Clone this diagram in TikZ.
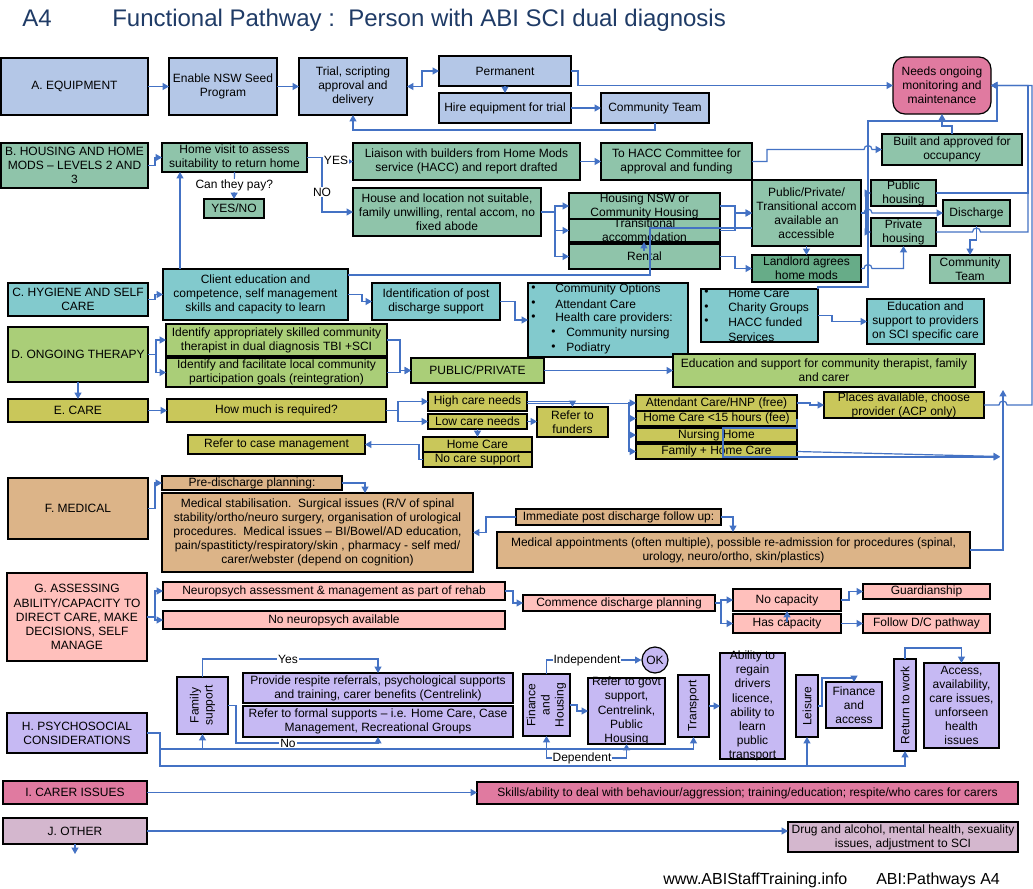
\documentclass[tikz,border=0pt]{standalone}
\usepackage{fontspec}
\setmainfont{Liberation Sans}
\usetikzlibrary{arrows.meta,calc}
\definecolor{cb}{HTML}{4472C4}
\definecolor{cEq}{HTML}{B4C7E7}
\definecolor{cHs}{HTML}{8FC4AA}
\definecolor{cHsd}{HTML}{67AC88}
\definecolor{cHy}{HTML}{82CACD}
\definecolor{cTh}{HTML}{AACE78}
\definecolor{cCa}{HTML}{C9C75A}
\definecolor{cMe}{HTML}{DCB488}
\definecolor{cAs}{HTML}{FFC0BC}
\definecolor{cPs}{HTML}{C6B9F3}
\definecolor{cCi}{HTML}{E07AA0}
\definecolor{cOt}{HTML}{D4B7CE}
\definecolor{cTitle}{HTML}{1F3B66}
\newcommand\mkbox[7][]{%
  \pgfmathsetmacro\bxw{(#4-#2)*0.75}%
  \pgfmathsetmacro\bxh{(#5-#3)*0.75}%
  \pgfmathsetmacro\bxcx{(#2+#4)/2}%
  \pgfmathsetmacro\bxcy{(#3+#5)/2}%
  \node[box,minimum width=\bxw pt,minimum height=\bxh pt,#1] (#6) at (\bxcx,\bxcy) {};%
  \node[txt] (#6-t) at (#6.center) {#7};%
}
\newcommand\mkrbox[7][]{%
  \pgfmathsetmacro\bxw{(#4-#2)*0.75}%
  \pgfmathsetmacro\bxh{(#5-#3)*0.75}%
  \pgfmathsetmacro\bxcx{(#2+#4)/2}%
  \pgfmathsetmacro\bxcy{(#3+#5)/2}%
  \node[box,minimum width=\bxw pt,minimum height=\bxh pt,#1] (#6) at (\bxcx,\bxcy) {};%
  \node[txt,rotate=90] (#6-t) at (#6.center) {#7};%
}
\begin{document}
\begin{tikzpicture}[x=0.75pt,y=-0.75pt,
  box/.style={draw=black,line width=0.9pt,inner sep=0pt,outer sep=0pt,rectangle},
  txt/.style={align=center,inner sep=0pt,font=\fontsize{9}{10.6}\selectfont},
  ltxt/.style={anchor=west,inner sep=0pt,font=\fontsize{9}{10.6}\selectfont},
  lbl/.style={fill=white,inner sep=0.8pt,font=\fontsize{9}{10}\selectfont},
  fEq/.style={fill=cEq}, fHs/.style={fill=cHs}, fHsd/.style={fill=cHsd},
  fHy/.style={fill=cHy}, fTh/.style={fill=cTh}, fCa/.style={fill=cCa},
  fMe/.style={fill=cMe}, fAs/.style={fill=cAs}, fPs/.style={fill=cPs},
  fCi/.style={fill=cCi}, fOt/.style={fill=cOt},
  hop/.style={},
  arr/.style={draw=cb,line width=0.9pt,-{Triangle[width=5.2pt,length=4.8pt]}},
  darr/.style={draw=cb,line width=0.9pt,{Triangle[width=5.2pt,length=4.8pt]}-{Triangle[width=5.2pt,length=4.8pt]}},
  ln/.style={draw=cb,line width=0.9pt}]
\useasboundingbox[fill=white] (0,0) rectangle (1033,889);

% title
\node[anchor=base west,inner sep=0pt,font=\fontsize{18}{20}\selectfont,text=cTitle] (tA) at (22,26) {A4};
\node[anchor=base west,inner sep=0pt,font=\fontsize{18}{20}\selectfont,text=cTitle] (tB) at (112,26) {Functional Pathway :\ \ Person with ABI SCI dual diagnosis};

% ===== A =====
\mkbox[fEq]{1}{58}{148}{115}{A}{A. EQUIPMENT}
\mkbox[fEq]{169}{58}{277}{115}{seed}{Enable NSW Seed\\Program}
\mkbox[fEq]{299}{58}{407}{115}{trial}{Trial, scripting\\approval and\\delivery}
\mkbox[fEq]{439}{56}{571}{86}{perm}{Permanent}
\mkbox[fEq]{439}{93}{571}{123}{hire}{Hire equipment for trial}
\mkbox[fEq]{601}{93}{709}{123}{ctA}{Community Team}
\mkbox[fCi,rounded corners=9pt]{893}{57}{991}{114}{needs}{Needs ongoing\\monitoring and\\maintenance}

% ===== B =====
\mkbox[fHs]{1}{143}{148}{188}{B}{B. HOUSING AND HOME\\MODS -- LEVELS 2 AND\\3}
\mkbox[fHs]{162}{143}{307}{172}{hv}{Home visit to assess\\suitability to return home}
\mkbox[fHs]{204}{199}{264}{218}{yn}{YES/NO}
\mkbox[fHs]{353}{143}{580}{180}{liaison}{Liaison with builders from Home Mods\\service (HACC) and report drafted}
\mkbox[fHs]{601}{143}{752}{180}{hacc}{To HACC Committee for\\approval and funding}
\mkbox[fHs]{882}{134}{1022}{165}{built}{Built and approved for\\occupancy}
\mkbox[fHs]{353}{188}{541}{236}{house}{House and location not suitable,\\family unwilling, rental accom, no\\fixed abode}
\mkbox[fHs]{569}{193}{720}{219}{hnsw}{Housing NSW or\\Community Housing}
\mkbox[fHs]{569}{219}{720}{242}{trans}{Transitional\\accommodation}
\mkbox[fHs]{569}{244}{720}{269}{rental}{Rental}
\mkbox[fHs]{752}{180}{861}{246}{ppt}{Public/Private/\\Transitional accom\\available an\\accessible}
\mkbox[fHsd]{752}{255}{861}{282}{landlord}{Landlord agrees\\home mods}
\mkbox[fHs]{871}{180}{936}{206}{pubh}{Public\\housing}
\mkbox[fHs]{871}{218}{936}{246}{privh}{Private\\housing}
\mkbox[fHs]{943}{200}{1010}{226}{disch}{Discharge}
\mkbox[fHs]{930}{255}{1010}{283}{ctB}{Community\\Team}

% ===== C =====
\mkbox[fHy]{8}{283}{148}{316}{C}{C. HYGIENE AND SELF\\CARE}
\mkbox[fHy]{163}{269}{348}{320}{client}{Client education and\\competence, self management\\skills and capacity to learn}
\mkbox[fHy]{372}{283}{500}{320}{ident}{Identification of post\\discharge support}
\mkbox[fHy]{528}{283}{688}{357}{copt}{}
\node[ltxt] (cob1) at (531,289) {•};
\node[ltxt] (cot1) at (555,289) {Community Options};
\node[ltxt] (cob2) at (531,304) {•};
\node[ltxt] (cot2) at (555,304) {Attendant Care};
\node[ltxt] (cob3) at (531,318) {•};
\node[ltxt] (cot3) at (555,318) {Health care providers:};
\node[ltxt] (cob4) at (551,333) {•};
\node[ltxt] (cot4) at (566,333) {Community nursing};
\node[ltxt] (cob5) at (551,348) {•};
\node[ltxt] (cot5) at (566,348) {Podiatry};
\mkbox[fHy]{701}{289}{818}{342}{hcl}{}
\node[ltxt] (hcb1) at (704,293) {•};
\node[ltxt] (hct1) at (728,293) {Home Care};
\node[ltxt] (hcb2) at (704,308) {•};
\node[ltxt] (hct2) at (728,308) {Charity Groups};
\node[ltxt] (hcb3) at (704,322) {•};
\node[ltxt] (hct3) at (728,322) {HACC funded};
\node[ltxt] (hct4) at (728,337) {Services};
\mkbox[fHy]{867}{299}{984}{344}{edprov}{Education and\\support to providers\\on SCI specific care}

% ===== D =====
\mkbox[fTh]{8}{327}{148}{382}{D}{D. ONGOING THERAPY}
\mkbox[fTh]{166}{324}{387}{356}{id1}{Identify appropriately skilled community\\therapist in dual diagnosis TBI +SCI}
\mkbox[fTh]{166}{358}{387}{387}{id2}{Identify and facilitate local community\\participation goals (reintegration)}
\mkbox[fTh]{411}{358}{544}{383}{pp}{PUBLIC/PRIVATE}
\mkbox[fTh]{673}{354}{975}{387}{edcomm}{Education and support for community therapist, family\\and carer}

% ===== E =====
\mkbox[fCa]{8}{399}{148}{422}{E}{E. CARE}
\mkbox[fCa]{167}{399}{386}{422}{howm}{How much is required?}
\mkbox[fCa]{428}{392}{527}{411}{high}{High care needs}
\mkbox[fCa]{428}{414}{527}{429}{low}{Low care needs}
\mkbox[fCa]{537}{407}{608}{437}{funders}{Refer to\\funders}
\mkbox[fCa]{423}{437}{532}{452}{hc}{Home Care}
\mkbox[fCa]{423}{452}{532}{467}{ncs}{No care support}
\mkbox[fCa]{188}{435}{365}{454}{rcm}{Refer to case management}
\mkbox[fCa]{636}{395}{797}{411}{att}{Attendant Care/HNP (free)}
\mkbox[fCa]{636}{411}{797}{426}{hc15}{Home Care <15 hours (fee)}
\mkbox[fCa]{636}{428}{797}{442}{nh}{Nursing Home}
\mkbox[fCa]{636}{444}{797}{459}{fhc}{Family + Home Care}
\mkbox[fCa]{824}{392}{984}{418}{places}{Places available, choose\\provider (ACP only)}

% ===== F =====
\mkbox[fMe]{8}{478}{148}{539}{F}{F. MEDICAL}
\mkbox[fMe]{162}{476}{342}{490}{pre}{Pre-discharge planning:}
\mkbox[fMe]{162}{493}{473}{572}{medstab}{Medical stabilisation.\ \ Surgical issues (R/V of spinal\\stability/ortho/neuro surgery, organisation of urological\\procedures.\ \ Medical issues -- BI/Bowel/AD education,\\pain/spastiticty/respiratory/skin , pharmacy - self med/\\carer/webster (depend on cognition)}
\mkbox[fMe]{516}{509}{721}{525}{imm}{Immediate post discharge follow up:}
\mkbox[fMe]{497}{532}{970}{568}{medapp}{Medical appointments (often multiple), possible re-admission for procedures (spinal,\\urology, neuro/ortho, skin/plastics)}

% ===== G =====
\mkbox[fAs]{7}{573}{147}{661}{G}{G. ASSESSING\\ABILITY/CAPACITY TO\\DIRECT CARE, MAKE\\DECISIONS, SELF\\MANAGE}
\mkbox[fAs]{163}{582}{505}{600}{np}{Neuropsych assessment \& management as part of rehab}
\mkbox[fAs]{163}{611}{505}{629}{nonp}{No neuropsych available}
\mkbox[fAs]{523}{595}{715}{611}{cdp}{Commence discharge planning}
\mkbox[fAs]{733}{589}{841}{611}{nocap}{No capacity}
\mkbox[fAs]{733}{614}{841}{633}{hascap}{Has capacity}
\mkbox[fAs]{863}{584}{990}{599}{guard}{Guardianship}
\mkbox[fAs]{863}{614}{990}{633}{fdc}{Follow D/C pathway}

% ===== H =====
\mkbox[fPs]{7}{713}{147}{753}{H}{H. PSYCHOSOCIAL\\CONSIDERATIONS}
\mkrbox[fPs]{177}{677}{228}{734}{fam}{Family\\support}
\mkbox[fPs]{243}{673}{513}{703}{resp}{Provide respite referrals, psychological supports\\and training, carer benefits (Centrelink)}
\mkbox[fPs]{243}{706}{513}{737}{formal}{Refer to formal supports -- i.e. Home Care, Case\\Management, Recreational Groups}
\mkrbox[fPs]{523}{674}{570}{736}{finh}{Finance\\and\\Housing}
\node[circle,draw=black,line width=0.9pt,fill=cPs,minimum size=19.5pt,inner sep=0pt,font=\fontsize{9}{10}\selectfont] (ok) at (655,660) {OK};
\mkbox[fPs]{588}{678}{665}{744}{govt}{Refer to govt\\support,\\Centrelink,\\Public\\Housing}
\mkrbox[fPs]{678}{675}{709}{737}{transp}{Transport}
\mkbox[fPs]{720}{653}{785}{759}{abil}{Ability to\\regain\\drivers\\licence,\\ability to\\learn\\public\\transport}
\mkrbox[fPs]{796}{675}{818}{737}{leis}{Leisure}
\mkbox[fPs]{826}{682}{882}{728}{fina}{Finance\\and\\access}
\mkrbox[fPs]{894}{659}{916}{751}{rtw}{Return to work}
\mkbox[fPs]{924}{663}{999}{748}{access}{Access,\\availability,\\care issues,\\unforseen\\health\\issues}

% ===== I, J =====
\mkbox[fCi]{3}{781}{147}{804}{I}{I. CARER ISSUES}
\mkbox[fCi]{477}{782}{1018}{804}{skills}{Skills/ability to deal with behaviour/aggression; training/education; respite/who cares for carers}
\mkbox[fOt]{3}{818}{147}{844}{J}{J. OTHER}
\mkbox[fOt]{788}{822}{1018}{852}{drug}{Drug and alcohol, mental health, sexuality\\issues, adjustment to SCI}

% footer
\node[anchor=base west,inner sep=0pt,font=\fontsize{12}{14}\selectfont] (f1) at (663,884) {www.ABIStaffTraining.info};
\node[anchor=base west,inner sep=0pt,font=\fontsize{12}{14}\selectfont] (f2) at (876,884) {ABI:Pathways A4};

% ===== connectors =====
\coordinate (busR1) at (1028,0);
\coordinate (busR2) at (1032,0);
\coordinate (ebus) at (629,0);
\coordinate (b1) at (0,749);
\coordinate (b2) at (0,766);

% A
\draw[arr] (A.east) -- (seed.west);
\draw[arr] (seed.east) -- (trial.west);
\draw[darr] (trial.east) -- ++(15,0) |- (perm.west);
\draw[arr] (perm.south) -- (hire.north);
\draw[arr] (hire.east) -- (ctA.west);
\draw[arr] (ctA.south) -- ++(0,7) -| (trial.south);
\draw[arr] (perm.east) -- ++(7,0) |- (needs.west);

% B
\draw[arr] (B.east) -- ++(7,0) |- (hv.west);
\draw[arr] (hv.south) -- node[lbl] (pay) {Can they pay?} (yn.north);
\draw[arr] (hv.east) -- ++(15,0) |- (liaison.west);
\draw[arr] (hv.east) -- ++(15,0) |- (house.west);
\draw[arr] (liaison.east) -- (hacc.west);
\draw[arr] (hacc.east) -- ++(15,0) |- ($(built.west)+(-18,0)$) arc[start angle=180,end angle=0,radius=3pt] -- (built.west);
\draw[arr] (built.north) -- ++(0,-8) -| (needs.south);
\draw[arr] (house.east) -- ++(14,0) |- (hnsw.west);
\draw[arr] (house.east) -- ++(14,0) |- (trans.west);
\draw[arr] (house.east) -- ++(14,0) |- (rental.west);
\draw[arr] (hnsw.east) -- ++(15,0) |- (ppt.west);
\draw[arr] (trans.east) -- ++(15,0) |- (ppt.west);
\draw[arr] (rental.east) -- ++(15,0) |- (landlord.west);
\draw[arr] (ppt.south) -- (landlord.north);
\draw[arr] (ppt.east) -- ++(5,0) |- (pubh.west);
\draw[arr] (ppt.east) -- ++(5,0) |- (privh.west);
\draw[arr] (ppt.east) -- ++(3,0) arc[start angle=180,end angle=0,radius=3pt] -- (disch.west);
\draw[arr] (disch.south) -- ++(0,14) -| (ctB.north);
\draw[arr] (pubh.east) -- (pubh.east -| busR1) |- (needs.east);
\draw[arr] (privh.east) -- ++(36.5,0) arc[start angle=180,end angle=0,radius=3pt] -- (privh.east -| busR1) |- (needs.east);
\draw[arr] (landlord.east) -- ++(3,0) arc[start angle=180,end angle=0,radius=3pt] -| (privh.south);
\draw[arr] (hcl.north east) -- ++(0,-2) -- ++(50,0) -- ++(0,-166) -- ++(129,0) |- (needs.east);

% C
\draw[arr] (C.east) -- ++(7,0) |- (client.west);
\draw[arr] ($(client.north west)+(17,0)$) -- ($(hv.south west)+(18,0)$);
\draw[ln] ($(client.north east)+(0,6)$) -- ++(302,0) |- ($(ppt.south west)+(0,-18)$);
\draw[arr] ($(trans.south west)+(75,9)$) -- ($(trans.south west)+(75,0)$);
\draw[arr] (client.east) -- ++(14,0) |- (ident.west);
\draw[arr] (ident.east) -- ++(15,0) |- (copt.west);
\draw[arr] (hcl.east) -- ++(14,0) |- (edprov.west);

% D
\draw[arr] (D.east) -- ++(8,0) |- (id1.west);
\draw[arr] (D.east) -- ++(8,0) |- (id2.west);
\draw[arr] (D.south) -- (E.north);
\draw[arr] (id1.east) -- ++(13,0) |- (pp.west);
\draw[arr] (id2.east) -- ++(13,0) |- (pp.west);
\draw[arr] (pp.east) -- (edcomm.west);

% E
\draw[arr] (E.east) -- (howm.west);
\draw[arr] (howm.east) -- ++(12,0) |- (high.west);
\draw[arr] (howm.east) -- ++(12,0) |- (low.west);
\draw[arr] (low.east) -- (low.east -| funders.west);
\draw[arr] (high.east) -| (funders.north);
\draw[ln] ([yshift=-1.2pt]high.east) -- ([yshift=-1.2pt]high.east -| ebus);
\draw[arr] ([yshift=-1.2pt]high.east -| ebus) |- (att.west);
\draw[arr] ([yshift=-1.2pt]high.east -| ebus) |- (hc15.west);
\draw[arr] ([yshift=-1.2pt]high.east -| ebus) |- (nh.west);
\draw[arr] ([yshift=-1.2pt]high.east -| ebus) |- (fhc.west);
\draw[arr] (low.south) -- (hc.north);
\draw[arr] (ncs.west) -- ++(-4,0) |- (rcm.east);
\draw[arr] (att.east) -- ++(13,0) |- (places.west);
\draw[arr] (places.east) -- ++(15,0) arc[start angle=180,end angle=0,radius=3pt] -- (places.east -| busR2) |- (needs.east);
\draw[arr] (hc15.east) |- (723,428) |- (1000,457);
\draw[arr] (fhc.east) -- (1000,456.5);
\draw[arr] (medapp.east) -| (1003,390);

% F
\draw[arr] (F.east) -- ++(7,0) |- (pre.west);
\draw[arr] (pre.east) -| ($(medstab.north west)+(203,0)$);
\draw[arr] (imm.west) -- ++(-30,0) |- (medstab.east);
\draw[arr] (imm.east) -| ($(medapp.north west)+(236,0)$);

% G
\draw[arr] (G.east) -- ++(8,0) |- (np.west);
\draw[arr] (G.east) -- ++(8,0) |- (nonp.west);
\draw[arr] (np.east) -- ++(8,0) |- (cdp.west);
\draw[arr] (cdp.east) -- ++(6,0) |- (nocap.west);
\draw[arr] (cdp.east) -- ++(6,0) |- (hascap.west);
\draw[arr] ($(hascap.north west)+(54,8)$) -- ($(nocap.south west)+(54,0)$);
\draw[arr] (nocap.east) -- ++(8,0) |- (guard.west);
\draw[arr] (hascap.east) -- (fdc.west);

% H
\draw[arr] (fam.north) -- ++(0,-18) -| (resp.north);
\draw[arr] (fam.east) -- ++(8,0) |- ($(formal.south)+(0,6)$) -- (formal.south);
\draw[arr] (H.east) -- ++(13,0) |- (transp.south |- b1) -- (transp.south);
\draw[arr] (fam.south |- b1) -- (fam.south);
\draw[arr] (finh.south |- b1) -- (finh.south);
\draw[arr] (finh.south |- b1) -- ++(0,9) -| (govt.south);
\draw[arr] (H.east) -- ++(13,0) |- (leis.south |- b2) -- (leis.south);
\draw[arr] (leis.south |- b2) -| (rtw.south);
\draw[arr] (finh.north) |- (ok.west);
\draw[arr] (finh.east) -- ++(7,0) |- (govt.west);
\draw[arr] (transp.east) -- (abil.west);
\draw[arr] (leis.east) -- ++(4,0) |- ($(fina.north)+(0,-4)$) -- (fina.north);
\draw[arr] (rtw.north) -- ++(0,-11) -| (access.north);

% I, J
\draw[arr] (I.east) -- (I.east -| skills.west);
\draw[arr] (J.east) -- (J.east -| drug.west);
\draw[arr] (J.south) -- ++(0,10);

% labels on lines
\node[lbl] (yes) at (336,160) {YES};
\node[lbl] (no) at (322,192) {NO};
\node[lbl] (yeslbl) at (288,659) {Yes};
\node[lbl] (nolbl) at (288,743) {No};
\node[lbl] (indep) at (587,660) {Independent};
\node[lbl] (dep) at (582,758) {Dependent};
\end{tikzpicture}
\end{document}
